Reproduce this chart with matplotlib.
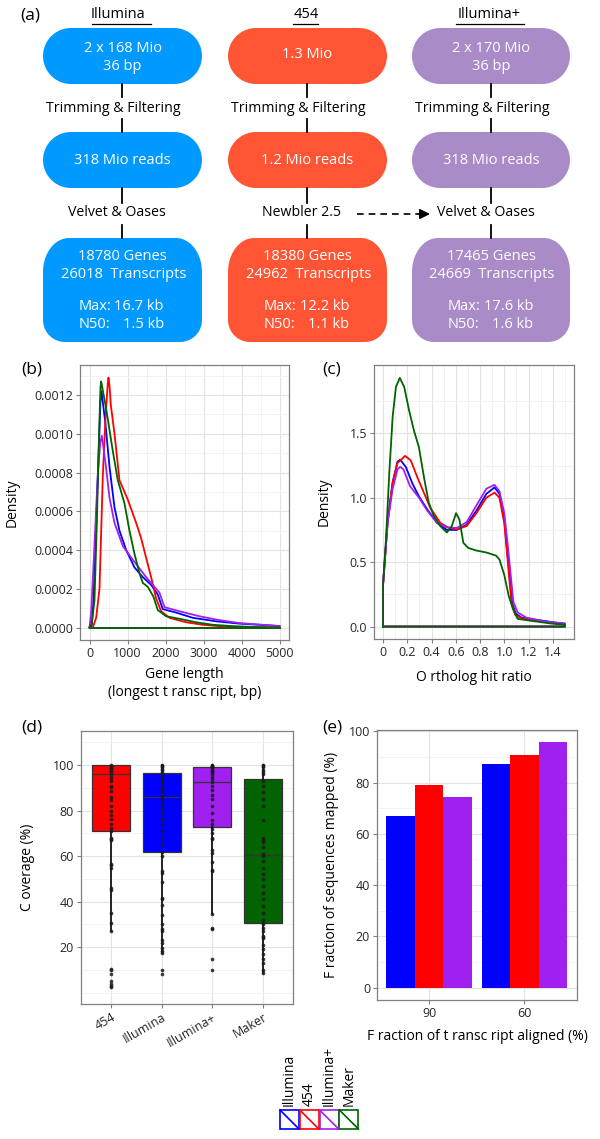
import numpy as np
import matplotlib
matplotlib.use("Agg")
import matplotlib.pyplot as plt
from matplotlib.patches import Polygon, Rectangle
from matplotlib.ticker import MultipleLocator, FixedLocator, FormatStrFormatter

plt.rcParams["font.family"] = ["Open Sans", "DejaVu Sans"]

# -------------------------------
# Data
# -------------------------------
# (a) assembly pipeline
pipe_names = ["Illumina", "454", "Illumina+"]
pipe_raw = [["2 x 168 Mio", "36 bp"], ["1.3 Mio"], ["2 x 170 Mio", "36 bp"]]
pipe_filtered = ["318 Mio reads", "1.2 Mio reads", "318 Mio reads"]
pipe_assembler = ["Velvet & Oases", "Newbler 2.5", "Velvet & Oases"]
pipe_genes = [18780, 18380, 17465]
pipe_transcripts = [26018, 24962, 24669]
pipe_max_kb = [16.7, 12.2, 17.6]
pipe_n50_kb = [1.5, 1.1, 1.6]

# (b) gene length densities (bp, density)
len_x_illumina = [0, 60, 105, 175, 237, 289, 315, 421, 526, 658, 789, 965, 1184, 1403, 1622,
                  1797, 1928, 2280, 2718, 3332, 3945, 4471, 5000]
len_y_illumina = [0, 0.00001, 0.00014, 0.00054, 0.00088, 0.00117, 0.00122, 0.00105, 0.00083,
                  0.00062, 0.0005, 0.0004, 0.00031, 0.00026, 0.00022, 0.00017, 0.000095,
                  0.000077, 0.00005, 0.000032, 0.00002, 0.000014, 0.000007]
len_x_454 = [0, 88, 175, 263, 350, 421, 481, 500, 530, 560, 658, 789, 1008, 1228, 1360, 1490,
             1622, 1754, 1885, 2104, 2543, 2981, 3420, 3900, 5000]
len_y_454 = [0, 0.0, 0.00005, 0.0002, 0.00078, 0.00108, 0.00126, 0.00129, 0.00124, 0.00115,
             0.001, 0.00076, 0.00066, 0.00054, 0.00046, 0.00036, 0.00026, 0.00015, 0.000084,
             0.00005, 0.000027, 0.000014, 0.000007, 0.000002, 0.0]
len_x_illumina_plus = [0, 44, 88, 158, 219, 281, 324, 421, 526, 658, 877, 1140, 1490, 1841,
                       1973, 2367, 2893, 3419, 3945, 4471, 5000]
len_y_illumina_plus = [0.0, 0.00008, 0.00025, 0.00054, 0.00079, 0.00095, 0.00099, 0.00085,
                       0.00067, 0.00054, 0.00042, 0.00035, 0.00026, 0.00018, 0.000105,
                       0.000084, 0.000058, 0.000038, 0.000023, 0.000015, 0.000008]
len_x_maker = [0, 60, 131, 193, 246, 289, 307, 438, 614, 745, 921, 1052, 1184, 1315, 1403,
               1535, 1680, 1797, 2017, 2367, 2806, 3245, 3770, 4295, 5000]
len_y_maker = [0, 0.00002, 0.00014, 0.00054, 0.00096, 0.00124, 0.00127, 0.00113, 0.00091,
               0.00076, 0.00064, 0.0005, 0.00038, 0.00028, 0.00023, 0.00021, 0.00016,
               0.00009, 0.000058, 0.000045, 0.000027, 0.000014, 0.000007, 0.000003, 0.0]

# (c) ortholog hit ratio densities
ohr_x_illumina = [0, 0.038, 0.079, 0.119, 0.141, 0.187, 0.242, 0.296, 0.364, 0.445, 0.526,
                  0.608, 0.689, 0.77, 0.852, 0.919, 0.96, 1.0, 1.02, 1.045, 1.065, 1.095,
                  1.14, 1.29, 1.42, 1.5]
ohr_y_illumina = [0.33, 0.83, 1.12, 1.28, 1.295, 1.24, 1.11, 1.01, 0.91, 0.805, 0.75, 0.75,
                  0.79, 0.9, 1.03, 1.08, 1.03, 0.83, 0.62, 0.38, 0.18, 0.1, 0.07, 0.049,
                  0.031, 0.023]
ohr_x_454 = [0, 0.038, 0.079, 0.119, 0.182, 0.228, 0.282, 0.336, 0.39, 0.472, 0.54, 0.608,
             0.689, 0.77, 0.852, 0.919, 0.96, 1.0, 1.02, 1.04, 1.06, 1.09, 1.14, 1.23, 1.37, 1.5]
ohr_y_454 = [0.33, 0.81, 1.12, 1.27, 1.325, 1.29, 1.16, 1.04, 0.92, 0.805, 0.767, 0.754, 0.78,
             0.88, 1.0, 1.04, 1.0, 0.8, 0.6, 0.38, 0.18, 0.09, 0.065, 0.049, 0.031, 0.015]
ohr_x_illumina_plus = [0, 0.038, 0.079, 0.119, 0.141, 0.168, 0.222, 0.296, 0.364, 0.445,
                       0.526, 0.608, 0.689, 0.77, 0.852, 0.919, 0.96, 1.0, 1.03, 1.055,
                       1.075, 1.11, 1.18, 1.32, 1.5]
ohr_y_illumina_plus = [0.33, 0.81, 1.07, 1.22, 1.24, 1.22, 1.09, 1.0, 0.9, 0.805, 0.77, 0.765,
                       0.81, 0.94, 1.07, 1.10, 1.05, 0.88, 0.62, 0.38, 0.19, 0.11, 0.07,
                       0.042, 0.023]
ohr_x_maker = [0, 0.024, 0.051, 0.079, 0.106, 0.138, 0.174, 0.214, 0.255, 0.296, 0.337, 0.377,
               0.418, 0.472, 0.526, 0.567, 0.602, 0.63, 0.662, 0.703, 0.77, 0.852, 0.933,
               0.96, 1.0, 1.036, 1.07, 1.11, 1.18, 1.29, 1.39, 1.5]
ohr_y_maker = [0.33, 0.68, 1.19, 1.63, 1.86, 1.93, 1.86, 1.68, 1.52, 1.39, 1.16, 0.96, 0.86,
               0.78, 0.73, 0.78, 0.88, 0.83, 0.65, 0.61, 0.59, 0.575, 0.55, 0.52, 0.4, 0.24,
               0.14, 0.06, 0.05, 0.036, 0.023, 0.015]

# (d) coverage (%) per assembly
cov_groups = ["454", "Illumina", "Illumina+", "Maker"]
cov_q1 = [71, 62, 72.8, 30.5]
cov_median = [96, 86, 92.5, 60.5]
cov_q3 = [100, 96.7, 99.3, 94]
cov_whislo = [27, 17.5, 34.5, 8.5]
cov_whishi = [100, 100, 100, 100]
cov_454 = [100, 99.6, 99.2, 98.8, 98.3, 97.8, 97.2, 96.5, 95.5, 94.5, 93, 91, 90.2, 88.5, 86,
           84.5, 82, 80, 78, 76.5, 74, 72.5, 71, 68, 67.5, 67, 56.5, 56, 55, 46, 45, 35,
           30.5, 27, 10.5, 10, 8, 5, 4, 3, 2.5]
cov_illumina = [100, 99.5, 99, 98.5, 98, 97, 96, 95, 93.5, 92, 90.5, 89, 88, 86.5, 85, 83, 81,
                79, 76.5, 74, 71, 67.5, 65, 62, 60, 53.5, 52.5, 48.5, 41.5, 41, 38.5, 34, 30,
                28, 27, 23, 22, 19.5, 18.5, 17.5, 10, 8]
cov_illumina_plus = [100, 99.7, 99.4, 99, 98.6, 98, 97.5, 97, 96, 95, 94, 92.5, 91, 89, 87,
                     85, 82, 79, 76, 74, 72, 70, 68, 67.5, 62.5, 61.5, 57.5, 54, 53.5, 34.5,
                     28.5, 28, 15, 10]
cov_maker = [100, 99.5, 99, 98, 97, 96, 93, 91, 88, 85, 82, 76, 68, 67, 66, 64, 61, 60, 58, 55,
             52, 50, 47, 44, 41, 38, 35, 32, 30, 28.5, 27, 25, 24.5, 24, 21, 19, 17, 15, 13,
             10, 8.5]

# (e) fraction of sequences mapped (%)
aligned_levels = ["90", "60"]
mapped_illumina = [67, 87.3]
mapped_454 = [79, 90.8]
mapped_illumina_plus = [74.5, 96]

# legend
legend_names = ["Illumina", "454", "Illumina+", "Maker"]

# -------------------------------
# Styles
# -------------------------------
col = {"Illumina": "#0000FF", "454": "#FF0000", "Illumina+": "#A020F0", "Maker": "#006400"}
box_col = ["#0099FF", "#FF5535", "#A98BC8"]

W, H = 600, 1139
fig = plt.figure(figsize=(W / 100, H / 100), dpi=100)


def px_axes(left, top, right, bottom):
    return fig.add_axes([left / W, 1 - bottom / H, (right - left) / W, (bottom - top) / H])


def style_axes(ax):
    for s in ax.spines.values():
        s.set_color("#808080")
        s.set_linewidth(0.9)
    ax.tick_params(which="major", length=3, width=0.8, color="#808080", labelsize=9,
                   labelcolor="#262626", pad=2)
    ax.tick_params(which="minor", length=0)
    ax.grid(True, which="major", color="#E3E3E3", lw=0.8)
    ax.grid(True, which="minor", color="#F1F1F1", lw=0.6)
    ax.set_axisbelow(True)


# -------------------------------
# (a) pipeline diagram
# -------------------------------
ax_a = px_axes(0, 0, 600, 350)
ax_a.set_xlim(0, 600)
ax_a.set_ylim(350, 0)
ax_a.axis("off")

col_left = [43, 228, 412]
col_right = [202, 387, 570]
conn_x = [122, 307, 491]
title_x = [118, 306, 489]
underline = [(92, 151), (293, 318), (456, 524)]


def add_box(x0, y0, x1, y1, c, rtop, rbot):
    # rounded box in pixel space (y grows downwards), elliptic corners
    (rxt, ryt), (rxb, ryb) = rtop, rbot
    q = np.linspace(0, np.pi / 2, 16)
    pts = []
    pts += [(x0 + rxt - rxt * np.cos(t), y0 + ryt - ryt * np.sin(t)) for t in q]
    pts += [(x1 - rxt + rxt * np.sin(t), y0 + ryt - ryt * np.cos(t)) for t in q]
    pts += [(x1 - rxb + rxb * np.cos(t), y1 - ryb + ryb * np.sin(t)) for t in q]
    pts += [(x0 + rxb - rxb * np.sin(t), y1 - ryb + ryb * np.cos(t)) for t in q]
    ax_a.add_patch(Polygon(pts, closed=True, fc=c, ec="none"))


ax_a.text(30, 16, "(a)", fontsize=12.5, ha="center", va="center")
for i, name in enumerate(pipe_names):
    x0, x1 = col_left[i], col_right[i]
    cx = (x0 + x1) / 2
    c = box_col[i]
    ax_a.text(title_x[i], 15, name, fontsize=10.5, ha="center", va="center")
    ax_a.plot(underline[i], [24, 24], color="black", lw=0.9)

    add_box(x0, 28, x1, 84, c, (28, 28), (28, 28))
    add_box(x0, 132, x1, 188, c, (28, 28), (28, 28))
    add_box(x0, 238, x1, 342, c, (26, 34), (22, 22))

    raw = pipe_raw[i]
    if len(raw) == 2:
        ax_a.text(cx, 48, raw[0], color="white", fontsize=10.5, ha="center", va="center")
        ax_a.text(cx, 67, raw[1], color="white", fontsize=10.5, ha="center", va="center")
    else:
        ax_a.text(cx, 54, raw[0], color="white", fontsize=10.5, ha="center", va="center")

    for ya, yb in [(84, 97), (119, 132), (188, 203), (225, 238)]:
        ax_a.plot([conn_x[i], conn_x[i]], [ya, yb], color="black", lw=1.3)
    ax_a.text(conn_x[i] - 9, 108, "Trimming & Filtering", fontsize=10.2, ha="center", va="center")
    ax_a.text(cx, 161, pipe_filtered[i], color="white", fontsize=10.5, ha="center", va="center")
    ax_a.text(conn_x[i] - 5, 213, pipe_assembler[i], fontsize=10.2, ha="center", va="center")

    ax_a.text(cx, 256, f"{pipe_genes[i]} Genes", color="white", fontsize=10.5,
              ha="center", va="center")
    ax_a.text(cx + 1, 275, f"{pipe_transcripts[i]}  Transcripts", color="white", fontsize=10.5,
              ha="center", va="center")
    ax_a.text(x0 + 36, 306, "Max:", color="white", fontsize=10.5, ha="left", va="center")
    ax_a.text(x0 + 121, 306, f"{pipe_max_kb[i]} kb", color="white", fontsize=10.5,
              ha="right", va="center")
    ax_a.text(x0 + 36, 324, "N50:", color="white", fontsize=10.5, ha="left", va="center")
    ax_a.text(x0 + 121, 324, f"{pipe_n50_kb[i]} kb", color="white", fontsize=10.5,
              ha="right", va="center")

# dashed arrow Newbler -> Velvet & Oases
ax_a.plot([357, 420], [214, 214], color="black", lw=1.2, dashes=(4, 3))
ax_a.annotate("", xy=(430, 214), xytext=(419, 214),
              arrowprops=dict(arrowstyle="-|>,head_length=0.6,head_width=0.3",
                              color="black", lw=1.2, shrinkA=0, shrinkB=0))

# -------------------------------
# (b) gene length density
# -------------------------------
ax_b = px_axes(80, 365, 289, 640)
style_axes(ax_b)
for xs, ys, name in [(len_x_illumina, len_y_illumina, "Illumina"),
                     (len_x_454, len_y_454, "454"),
                     (len_x_illumina_plus, len_y_illumina_plus, "Illumina+"),
                     (len_x_maker, len_y_maker, "Maker")]:
    ax_b.plot(xs, ys, color=col[name], lw=1.3)
    ax_b.plot([xs[0], xs[-1]], [0, 0], color=col[name], lw=1.3)
ax_b.set_xlim(-250, 5250)
ax_b.set_ylim(-0.0000645, 0.001355)
ax_b.xaxis.set_major_locator(MultipleLocator(1000))
ax_b.xaxis.set_minor_locator(MultipleLocator(500))
ax_b.yaxis.set_major_locator(MultipleLocator(0.0002))
ax_b.yaxis.set_minor_locator(MultipleLocator(0.0001))
ax_b.yaxis.set_major_formatter(FormatStrFormatter("%.4f"))
ax_b.set_xlabel("Gene length\n(longest t ransc ript, bp)", fontsize=10, linespacing=1.2)
ax_b.xaxis.set_label_coords(0.5, -0.158)
ax_b.xaxis.label.set_va("center")
ax_b.set_ylabel("Density", fontsize=10)
ax_b.yaxis.set_label_coords(-0.287, 0.5)
fig.text(32 / W, 1 - 370 / H, "(b)", fontsize=12.5, ha="center", va="center")

# -------------------------------
# (c) ortholog hit ratio density
# -------------------------------
ax_c = px_axes(374, 365, 574, 639)
style_axes(ax_c)
for xs, ys, name in [(ohr_x_illumina, ohr_y_illumina, "Illumina"),
                     (ohr_x_454, ohr_y_454, "454"),
                     (ohr_x_illumina_plus, ohr_y_illumina_plus, "Illumina+"),
                     (ohr_x_maker, ohr_y_maker, "Maker")]:
    ax_c.plot([xs[0]] + xs + [xs[-1], xs[0]], [0] + ys + [0, 0], color=col[name], lw=1.3)
ax_c.set_xlim(-0.075, 1.575)
ax_c.set_ylim(-0.0965, 2.03)
ax_c.xaxis.set_major_locator(FixedLocator([0, 0.2, 0.4, 0.6, 0.8, 1.0, 1.2, 1.4]))
ax_c.set_xticklabels(["0", "0.2", "0.4", "0.6", "0.8", "1.0", "1.2", "1.4"])
ax_c.xaxis.set_minor_locator(MultipleLocator(0.1))
ax_c.yaxis.set_major_locator(FixedLocator([0, 0.5, 1.0, 1.5]))
ax_c.yaxis.set_minor_locator(FixedLocator([0.25, 0.75, 1.25, 1.75]))
ax_c.yaxis.set_major_formatter(FormatStrFormatter("%.1f"))
ax_c.set_xlabel("O rtholog hit ratio", fontsize=10)
ax_c.xaxis.set_label_coords(0.5, -0.139)
ax_c.xaxis.label.set_va("center")
ax_c.set_ylabel("Density", fontsize=10)
ax_c.yaxis.set_label_coords(-0.21, 0.5)
fig.text(332 / W, 1 - 370 / H, "(c)", fontsize=12.5, ha="center", va="center")

# -------------------------------
# (d) coverage boxplots
# -------------------------------
ax_d = px_axes(81, 731, 293, 1004)
style_axes(ax_d)
positions = list(range(1, len(cov_groups) + 1))
stats = [dict(label=g, q1=q1, med=m, q3=q3, whislo=lo, whishi=hi)
         for g, q1, m, q3, lo, hi in zip(cov_groups, cov_q1, cov_median, cov_q3,
                                         cov_whislo, cov_whishi)]
bp = ax_d.bxp(stats, positions=positions, widths=0.75, patch_artist=True, showfliers=False,
              showcaps=False,
              boxprops=dict(edgecolor="#333333", lw=0.9),
              medianprops=dict(color="#333333", lw=0.9),
              whiskerprops=dict(color="black", lw=1.2))
for patch, g in zip(bp["boxes"], cov_groups):
    patch.set_facecolor(col[g])
for pos, vals in zip(positions, [cov_454, cov_illumina, cov_illumina_plus, cov_maker]):
    ax_d.scatter([pos] * len(vals), vals, s=7, color="#1a1a1a", alpha=0.85, lw=0, zorder=4)
ax_d.set_xlim(0.4, 4.6)
ax_d.set_ylim(-5, 115)
ax_d.yaxis.set_major_locator(FixedLocator([20, 40, 60, 80, 100]))
ax_d.yaxis.set_minor_locator(FixedLocator([0, 10, 30, 50, 70, 90, 110]))
ax_d.set_xticks(positions)
ax_d.set_xticklabels(cov_groups, rotation=30, ha="right", rotation_mode="anchor")
ax_d.set_ylabel("C overage (%)", fontsize=10)
ax_d.yaxis.set_label_coords(-0.217, 0.5)
fig.text(32 / W, 1 - 728 / H, "(d)", fontsize=12.5, ha="center", va="center")

# -------------------------------
# (e) fraction of sequences mapped
# -------------------------------
ax_e = px_axes(377, 730, 577, 1000)
style_axes(ax_e)
xg = list(range(1, len(aligned_levels) + 1))
bw = 0.3
for k, (vals, name) in enumerate([(mapped_illumina, "Illumina"), (mapped_454, "454"),
                                  (mapped_illumina_plus, "Illumina+")]):
    ax_e.bar([x + (k - 1) * bw for x in xg], vals, width=bw, color=col[name], lw=0)
ax_e.set_xlim(0.455, 2.55)
ax_e.set_ylim(-4.8, 100.5)
ax_e.yaxis.set_major_locator(MultipleLocator(20))
ax_e.yaxis.set_minor_locator(MultipleLocator(10))
ax_e.set_xticks(xg)
ax_e.set_xticklabels(aligned_levels)
ax_e.set_xlabel("F raction of t ransc ript aligned (%)", fontsize=10)
ax_e.xaxis.set_label_coords(0.5, -0.135)
ax_e.xaxis.label.set_va("center")
ax_e.set_ylabel("F raction of sequences mapped (%)", fontsize=10)
ax_e.yaxis.set_label_coords(-0.19, 0.5)
fig.text(332 / W, 1 - 728 / H, "(e)", fontsize=12.5, ha="center", va="center")

# -------------------------------
# Legend
# -------------------------------
ax_l = px_axes(270, 1040, 370, 1135)
ax_l.set_xlim(270, 370)
ax_l.set_ylim(1135, 1040)
ax_l.axis("off")
for i, name in enumerate(legend_names):
    x = 280 + i * 19.8
    ax_l.add_patch(Rectangle((x, 1110), 19, 19, fc="white", ec=col[name], lw=1.2))
    ax_l.plot([x, x + 19], [1110, 1129], color=col[name], lw=1.2)
    ax_l.text(x + 9.5, 1106, name, rotation=90, fontsize=10, ha="center", va="bottom")

fig.savefig("out.png", dpi=100)
